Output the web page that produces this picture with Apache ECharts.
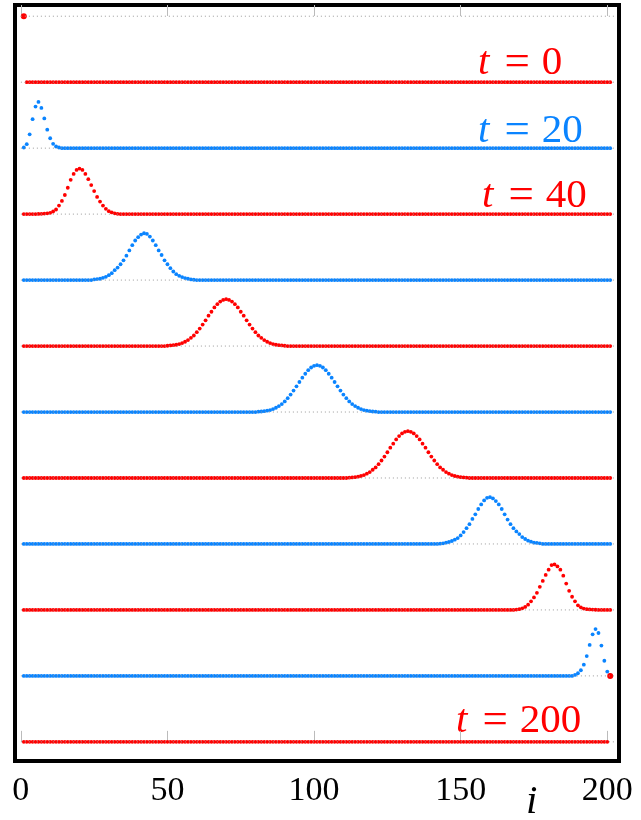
<!DOCTYPE html>
<html lang="en">
<head>
    <meta charset="UTF-8">
    <title>wave packet</title>
    <script src="https://cdn.jsdelivr.net/npm/echarts@6/dist/echarts.min.js"></script>
    <style>
        html, body { margin: 0; padding: 0; background: #fff; }
    </style>
</head>
<body>
<div id="main" style="width:641px;height:820px;"></div>
<script type="text/javascript">
    // rows, top to bottom
    var rowTimes = [0, 20, 40, 60, 80, 100, 120, 140, 160, 180, 200];
    var nPoints = 201;           // sites i = 1..201
    var tickValues = [0, 50, 100, 150, 200];
    var labelTimes = [0, 20, 40, 200];

    // first site of each bump, and the bump values (outside the bump the value is 0)
    var bumpStart = [1, 1, 6, 25, 50, 81, 112, 143, 169, 189, 201];
    var bump0 = [1];
    var bump20 = [0.01, 0.06, 0.21, 0.44, 0.63, 0.70, 0.61, 0.45, 0.28, 0.15, 0.065, 0.025, 0.01];
    var bump40 = [0.003, 0.005, 0.008, 0.012, 0.02, 0.04, 0.07, 0.13, 0.20, 0.29, 0.40, 0.52, 0.61, 0.67,
        0.69, 0.67, 0.61, 0.53, 0.44, 0.35, 0.26, 0.19, 0.13, 0.08, 0.045, 0.025, 0.012, 0.005];
    var bump60 = [0.01, 0.015, 0.02, 0.035, 0.05, 0.075, 0.105, 0.15, 0.19, 0.24, 0.30, 0.37, 0.45, 0.53,
        0.60, 0.65, 0.69, 0.71, 0.70, 0.66, 0.60, 0.53, 0.45, 0.38, 0.30, 0.24, 0.18, 0.13, 0.09, 0.065,
        0.045, 0.03, 0.02, 0.01, 0.005];
    var bump80 = [0.005, 0.009, 0.013, 0.02, 0.03, 0.045, 0.065, 0.09, 0.125, 0.16, 0.21, 0.265, 0.325,
        0.39, 0.46, 0.52, 0.585, 0.635, 0.675, 0.70, 0.71, 0.70, 0.675, 0.635, 0.585, 0.52, 0.46, 0.39,
        0.325, 0.265, 0.21, 0.16, 0.125, 0.09, 0.065, 0.045, 0.03, 0.02, 0.013, 0.009, 0.005];
    var bump100 = [0.005, 0.008, 0.013, 0.02, 0.03, 0.045, 0.065, 0.09, 0.12, 0.16, 0.21, 0.265, 0.325,
        0.39, 0.455, 0.52, 0.58, 0.635, 0.675, 0.70, 0.71, 0.70, 0.675, 0.635, 0.58, 0.52, 0.455, 0.39,
        0.325, 0.265, 0.21, 0.16, 0.12, 0.09, 0.065, 0.045, 0.03, 0.02, 0.013, 0.008, 0.005];
    var bump120 = [0.005, 0.009, 0.013, 0.02, 0.03, 0.045, 0.065, 0.09, 0.125, 0.16, 0.21, 0.265, 0.325,
        0.39, 0.46, 0.52, 0.585, 0.635, 0.675, 0.70, 0.71, 0.70, 0.675, 0.635, 0.585, 0.52, 0.46, 0.39,
        0.325, 0.265, 0.21, 0.16, 0.125, 0.09, 0.065, 0.045, 0.03, 0.02, 0.013, 0.009, 0.005];
    var bump140 = [0.005, 0.01, 0.02, 0.03, 0.045, 0.065, 0.09, 0.13, 0.18, 0.24, 0.30, 0.38, 0.45, 0.53,
        0.60, 0.66, 0.70, 0.71, 0.69, 0.65, 0.60, 0.53, 0.45, 0.37, 0.30, 0.24, 0.19, 0.15, 0.105, 0.075,
        0.05, 0.035, 0.02, 0.015, 0.01];
    var bump160 = [0.005, 0.012, 0.025, 0.045, 0.08, 0.13, 0.19, 0.26, 0.35, 0.44, 0.53, 0.61, 0.68, 0.69,
        0.66, 0.61, 0.52, 0.40, 0.29, 0.20, 0.13, 0.07, 0.04, 0.02, 0.012, 0.008, 0.005, 0.003];
    var bump180 = [0.015, 0.04, 0.086, 0.17, 0.30, 0.47, 0.63, 0.71, 0.65, 0.46, 0.23, 0.066, 0.01];
    var bump200 = [1];

    var bumps = [bump0, bump20, bump40, bump60, bump80, bump100, bump120, bump140, bump160, bump180, bump200];
    var colors = ['#ff0000', '#0a84ff'];
    var serif = '"Liberation Serif", "DejaVu Serif", serif';

    var dom = document.getElementById('main');
    var myChart = echarts.init(dom);

    var series = [];
    var nRows = rowTimes.length;

    // dotted reference levels
    for (var lv = 0; lv <= nRows; lv++) {
        series.push({
            type: 'line',
            data: [[0, lv], [202.3, lv]],
            symbol: 'none',
            silent: true,
            lineStyle: {color: '#9a9a9a', width: 1, type: [1, 3]}
        });
    }

    for (var k = 0; k < nRows; k++) {
        var base = nRows - 1 - k;
        var pts = [];
        for (var i = 1; i <= nPoints; i++) {
            var j = i - bumpStart[k];
            var v = (j >= 0 && j < bumps[k].length) ? bumps[k][j] : 0;
            pts.push([i, base + v]);
        }
        (function (b) {
            series.push({
                type: 'scatter',
                name: 't=' + rowTimes[k],
                data: pts,
                silent: true,
                symbolSize: function (val) {
                    return (val[1] - b) > 0.9 ? 6 : 3.8;
                },
                itemStyle: {color: colors[k % 2], opacity: 1}
            });
        })(base);
    }

    // t labels
    var labelPos = {0: [478, 62], 20: [478, 130], 40: [482, 195], 200: [456, 720]};
    var graphics = [];
    labelTimes.forEach(function (t) {
        var c = colors[rowTimes.indexOf(t) % 2];
        graphics.push({
            type: 'text',
            left: labelPos[t][0],
            top: labelPos[t][1] - 21,
            silent: true,
            style: {
                text: '{t|t}{e|=}{n|' + t + '}',
                fill: c,
                rich: {
                    t: {fontFamily: serif, fontStyle: 'italic', fontSize: 41, fill: c, padding: [0, 8, 0, 0]},
                    e: {fontFamily: serif, fontSize: 45, fill: c, padding: [0, 12, 0, 7]},
                    n: {fontFamily: serif, fontSize: 41, fill: c}
                }
            }
        });
    });
    graphics.push({
        type: 'text',
        left: 526,
        top: 782,
        silent: true,
        style: {text: 'i', fontFamily: serif, fontStyle: 'italic', fontSize: 41, fill: '#000'}
    });

    var option = {
        animation: false,
        grid: {
            left: 15, right: 22, top: 5, bottom: 59,
            show: true, borderColor: '#000', borderWidth: 4, backgroundColor: '#fff'
        },
        xAxis: [{
            type: 'value', min: -2, max: 204,
            axisLine: {show: false},
            splitLine: {show: false},
            axisTick: {show: true, inside: true, length: 11, customValues: tickValues,
                lineStyle: {color: '#bbbbbb', width: 1}},
            axisLabel: {customValues: tickValues, fontFamily: serif, fontSize: 34, color: '#000', margin: 13}
        }, {
            type: 'value', min: -2, max: 204, position: 'top',
            axisLine: {show: false},
            splitLine: {show: false},
            axisTick: {show: true, inside: true, length: 11, customValues: tickValues,
                lineStyle: {color: '#bbbbbb', width: 1}},
            axisLabel: {show: false}
        }],
        yAxis: {type: 'value', min: -0.29, max: 11.17, show: false},
        graphic: graphics,
        series: series
    };

    if (option && typeof option === 'object') {
        myChart.setOption(option, true);
    }
</script>
</body>
</html>
